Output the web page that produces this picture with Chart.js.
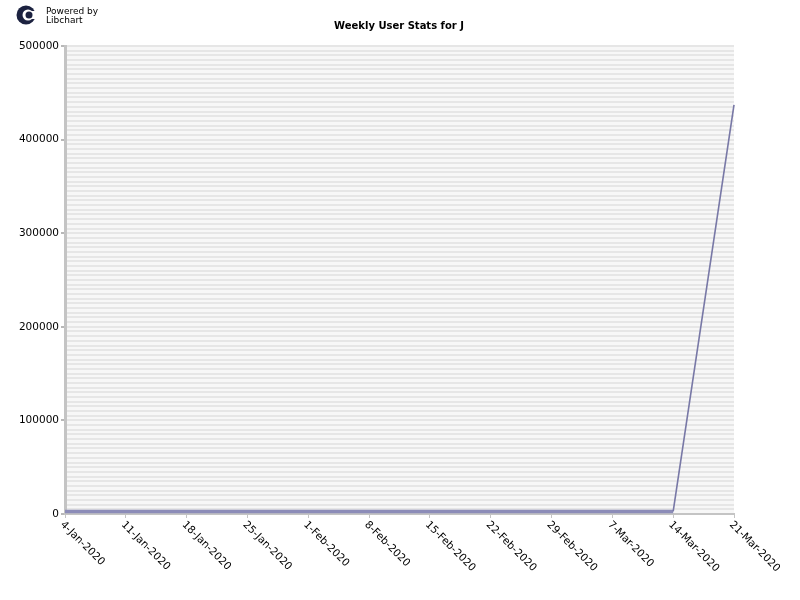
<!DOCTYPE html>
<html>
<head>
<meta charset="utf-8">
<script src="https://cdn.jsdelivr.net/npm/chart.js@4/dist/chart.umd.min.js"></script>
<style>
  html, body { margin: 0; padding: 0; background: #fff; }
  #wrap { width: 800px; height: 600px; }
</style>
</head>
<body>
<div id="wrap"><canvas id="myChart" width="800" height="600"></canvas></div>
<script>
// weeks shown on the x axis
var weeks = ["4-Jan-2020", "11-Jan-2020", "18-Jan-2020", "25-Jan-2020", "1-Feb-2020", "8-Feb-2020",
             "15-Feb-2020", "22-Feb-2020", "29-Feb-2020", "7-Mar-2020", "14-Mar-2020", "21-Mar-2020"];
// users per week
var users = [2700, 2700, 2800, 2700, 2800, 2800, 2700, 2800, 2800, 2700, 2800, 437000];
var yTicks = [0, 100000, 200000, 300000, 400000, 500000];
var chartTitle = 'Weekly User Stats for J';

var font = '"DejaVu Sans", "Liberation Sans", sans-serif';

// libchart style extras: logo, title, striped background, slanted x labels
var libchartLook = {
    id: 'libchartLook',
    beforeDraw: function (chart) {
        var c = chart.ctx, a = chart.chartArea;
        c.save();
        c.fillStyle = '#f7f7f7';
        c.fillRect(a.left, a.top, a.right - a.left, a.bottom - a.top);
        c.restore();
    },
    afterDraw: function (chart) {
        var c = chart.ctx;
        var x = chart.scales.x;
        c.save();
        // logo
        c.fillStyle = '#1c2240';
        c.beginPath(); c.arc(26, 15, 9.5, 0, Math.PI * 2); c.fill();
        c.fillStyle = '#fff';
        c.beginPath(); c.arc(28, 15, 5.5, 0, Math.PI * 2); c.fill();
        c.fillRect(30, 11, 7, 8);
        c.fillStyle = '#1c2240';
        c.beginPath(); c.arc(29, 15, 3.5, 0, Math.PI * 2); c.fill();
        c.fillStyle = '#000';
        c.font = '9px ' + font;
        c.textAlign = 'left';
        c.textBaseline = 'alphabetic';
        c.fillText('Powered by', 46, 14);
        c.fillText('Libchart', 46, 23);
        // title
        c.font = 'bold 10px ' + font;
        c.textAlign = 'center';
        c.fillText(chartTitle, 399, 29);
        // x labels, rotated clockwise, starting at tick
        c.font = '10.5px ' + font;
        c.textAlign = 'left';
        c.textBaseline = 'middle';
        weeks.forEach(function (w, i) {
            var px = x.getPixelForTick(i);
            c.save();
            c.translate(px - 3, chart.chartArea.bottom + 9);
            c.rotate(Math.PI / 4);
            c.fillText(w, 0, 0);
            c.restore();
        });
        c.restore();
    }
};

var ctx = document.getElementById('myChart').getContext('2d');
var chart = new Chart(ctx, {
    type: 'line',
    data: {
        labels: weeks,
        datasets: [{
            label: 'Users',
            data: users,
            borderColor: '#7e7eaa',
            borderWidth: 2,
            pointRadius: 0,
            tension: 0,
            fill: false,
            segment: {
                borderWidth: function (s) { return s.p1.parsed.y - s.p0.parsed.y > 10000 ? 1.6 : 3.5; },
                borderColor: function (s) { return s.p1.parsed.y - s.p0.parsed.y > 10000 ? '#7878a6' : '#8c8cb8'; }
            }
        }]
    },
    options: {
        responsive: false,
        animation: false,
        layout: { padding: { left: 0, top: 46, right: 66, bottom: 86 } },
        plugins: {
            legend: { display: false },
            title: { display: false },
            tooltip: { enabled: false }
        },
        scales: {
            x: {
                offset: false,
                grid: { drawOnChartArea: false, tickLength: 4, color: '#c4c4c4', lineWidth: 1 },
                border: { color: '#c4c4c4', width: 2 },
                ticks: { display: false },
                afterFit: function (s) { s.height = 0; }
            },
            y: {
                min: 0,
                max: 500000,
                ticks: {
                    stepSize: 5000,
                    autoSkip: false,
                    color: '#000',
                    padding: 2,
                    font: { family: font, size: 10.5 },
                    callback: function (v) { return yTicks.indexOf(v) >= 0 ? String(v) : ''; }
                },
                grid: {
                    color: '#e6e6e6',
                    lineWidth: 2,
                    tickLength: 4,
                    tickColor: function (c) { return c.tick && yTicks.indexOf(c.tick.value) >= 0 ? '#b8b8b8' : 'rgba(0,0,0,0)'; }
                },
                border: { color: '#c4c4c4', width: 3 },
                afterFit: function (s) { s.width = 65; }
            }
        }
    },
    plugins: [libchartLook]
});
</script>
</body>
</html>
